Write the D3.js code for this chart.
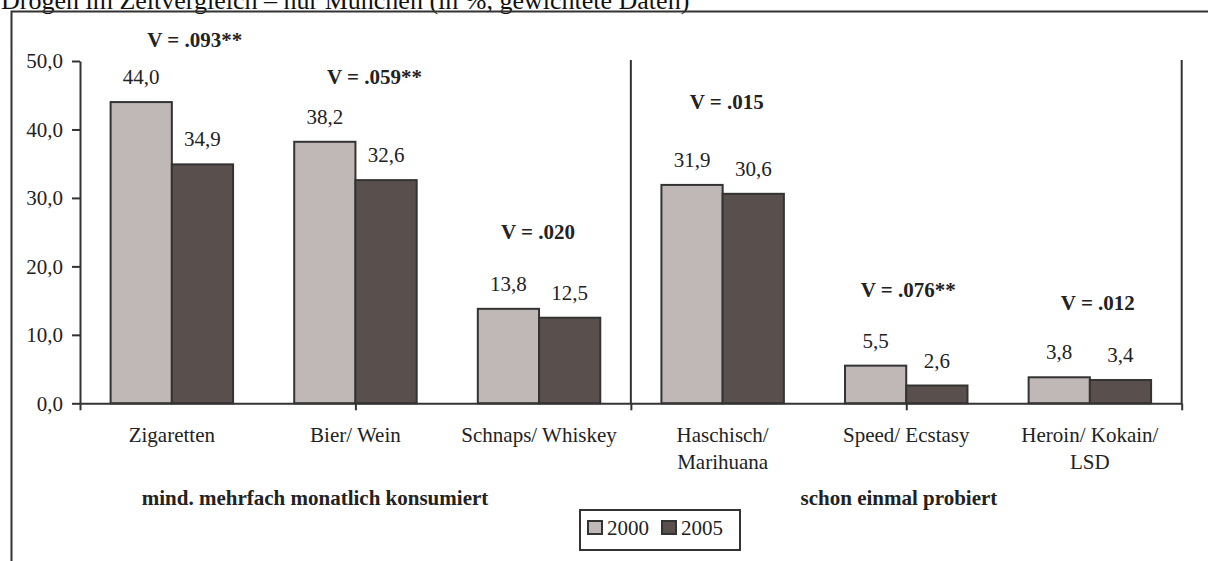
<!DOCTYPE html>
<html>
<head>
<meta charset="utf-8">
<script src="https://cdn.jsdelivr.net/npm/d3@7"></script>
<style>
body { margin: 0; background: #fff; }
svg text { font-family: "Liberation Serif", "Times New Roman", Times, serif; }
</style>
</head>
<body>
<script>
// data
const categories = [["Zigaretten"], ["Bier/ Wein"], ["Schnaps/ Whiskey"], ["Haschisch/", "Marihuana"], ["Speed/ Ecstasy"], ["Heroin/ Kokain/", "LSD"]]
const years      = ["2000", "2005"]
const values2000 = [44.0, 38.2, 13.8, 31.9, 5.5, 3.8]
const values2005 = [34.9, 32.6, 12.5, 30.6, 2.6, 3.4]
const cramerV    = ["V = .093**", "V = .059**", "V = .020", "V = .015", "V = .076**", "V = .012"]
const groups     = ["mind. mehrfach monatlich konsumiert", "schon einmal probiert"]
const yTicks     = [0, 10, 20, 30, 40, 50]
const title      = "Drogen im Zeitvergleich – nur München (in %, gewichtete Daten)"

// layout (hand placed text boxes in the original)
const vLabelDx = [23, 19, -1, 4, 2, 8]
const vLabelAt = [53.1, 47.7, 25.0, 44.0, 16.6, 14.6]   // in axis units
const groupCenter = [1.28, 4.46]                          // in category units
const colors = ["#c0b8b6", "#59504d"]
const ink = "#333"
const serif = "'Liberation Serif', 'Times New Roman', Times, serif"

const width = 1208, height = 561
const fmt = d => d3.format(".1f")(d).replace(".", ",")

const svg = d3.select("body").append("svg")
    .attr("width", width)
    .attr("height", height)
    .attr("font-family", serif)
    .style("display", "block")

svg.append("text")
    .attr("x", 1)
    .attr("y", 9)
    .attr("font-size", 26)
    .attr("fill", "#111")
    .text(title)

// frame
svg.append("path")
    .attr("d", "M11.5,561 V11.5 H1208")
    .attr("fill", "none")
    .attr("stroke", ink)
    .attr("stroke-width", 2)

const plotLeft = 80, plotRight = 1181.7, plotTop = 61, plotBottom = 403.3

const x = d3.scaleBand()
    .domain(d3.range(categories.length))
    .range([plotLeft, plotRight])
    .paddingInner(0.333)
    .paddingOuter(0.1667)

const xSub = d3.scaleBand()
    .domain(years)
    .range([0, x.bandwidth()])

const xUnits = d3.scaleLinear()
    .domain([0, categories.length])
    .range([plotLeft, plotRight])

const y = d3.scaleLinear()
    .domain([0, 50])
    .range([plotBottom, plotTop])

const series = [values2000, values2005]

// bars
const cat = svg.append("g")
    .selectAll("g")
    .data(d3.range(categories.length))
    .enter()
    .append("g")
        .attr("transform", i => `translate(${x(i)},0)`)

cat.selectAll("rect")
    .data(i => years.map((yr, s) => ({ yr, s, v: series[s][i] })))
    .enter()
    .append("rect")
        .attr("x", d => xSub(d.yr))
        .attr("y", d => y(d.v))
        .attr("width", xSub.bandwidth())
        .attr("height", d => y(0) - y(d.v))
        .attr("fill", d => colors[d.s])
        .attr("stroke", ink)
        .attr("stroke-width", 2)

cat.selectAll("text.val")
    .data(i => years.map((yr, s) => ({ yr, s, v: series[s][i] })))
    .enter()
    .append("text")
        .attr("class", "val")
        .attr("x", d => xSub(d.yr) + xSub.bandwidth() / 2)
        .attr("y", d => y(d.v) - 18)
        .attr("text-anchor", "middle")
        .attr("font-size", 21)
        .attr("fill", "#222")
        .text(d => fmt(d.v))

// Cramer's V
svg.append("g")
    .selectAll("text")
    .data(cramerV)
    .enter()
    .append("text")
        .attr("x", (d, i) => x(i) + x.bandwidth() / 2 + vLabelDx[i])
        .attr("y", (d, i) => y(vLabelAt[i]) + 7)
        .attr("text-anchor", "middle")
        .attr("font-size", 21)
        .attr("font-weight", "bold")
        .attr("fill", "#222")
        .text(d => d)

// y axis
const yAxis = svg.append("g")
    .attr("transform", `translate(${plotLeft},0)`)
    .call(d3.axisLeft(y).tickValues(yTicks).tickSize(8).tickSizeOuter(0).tickPadding(9).tickFormat(fmt))
yAxis.attr("font-family", serif).attr("font-size", 21)
yAxis.select(".domain").attr("stroke", ink).attr("stroke-width", 2)
yAxis.selectAll(".tick line").attr("stroke", ink).attr("stroke-width", 2)
yAxis.selectAll(".tick text").attr("fill", "#222")

// x axis
const xAxis = svg.append("g")
    .attr("transform", `translate(0,${plotBottom})`)
    .call(d3.axisBottom(xUnits).tickValues([0, 1.5, 3, 4.5, 6]).tickSize(7).tickSizeOuter(0).tickFormat(""))
xAxis.select(".domain").attr("stroke", ink).attr("stroke-width", 2)
xAxis.selectAll(".tick line").attr("stroke", ink).attr("stroke-width", 2)

// group dividers
svg.append("g")
    .selectAll("line")
    .data([3, 6])
    .enter()
    .append("line")
        .attr("x1", d => xUnits(d))
        .attr("x2", d => xUnits(d))
        .attr("y1", y(50) - 1)
        .attr("y2", plotBottom)
        .attr("stroke", ink)
        .attr("stroke-width", 2)

// category labels
const catLabels = svg.append("g")
    .selectAll("text")
    .data(categories)
    .enter()
    .append("text")
        .attr("x", (d, i) => x(i) + x.bandwidth() / 2)
        .attr("y", plotBottom + 39)
        .attr("text-anchor", "middle")
        .attr("font-size", 21)
        .attr("fill", "#222")

catLabels.selectAll("tspan")
    .data(d => d)
    .enter()
    .append("tspan")
        .attr("x", function() { return this.parentNode.getAttribute("x") })
        .attr("dy", (d, j) => j ? 27 : 0)
        .text(d => d)

// group labels
svg.append("g")
    .selectAll("text")
    .data(groups)
    .enter()
    .append("text")
        .attr("x", (d, i) => xUnits(groupCenter[i]))
        .attr("y", 505)
        .attr("text-anchor", "middle")
        .attr("font-size", 21)
        .attr("font-weight", "bold")
        .attr("fill", "#222")
        .text(d => d)

// legend
const legend = svg.append("g").attr("transform", "translate(580,510)")
legend.append("rect")
    .attr("width", 160)
    .attr("height", 40)
    .attr("fill", "#fff")
    .attr("stroke", ink)
    .attr("stroke-width", 2)

const item = legend.selectAll("g")
    .data(years)
    .enter()
    .append("g")
        .attr("transform", (d, i) => `translate(${8 + i * 74},11)`)

item.append("rect")
    .attr("width", 14)
    .attr("height", 13)
    .attr("fill", (d, i) => colors[i])
    .attr("stroke", ink)
    .attr("stroke-width", 2)

item.append("text")
    .attr("x", 19)
    .attr("y", 14)
    .attr("font-size", 21)
    .attr("fill", "#222")
    .text(d => d)
</script>
</body>
</html>
